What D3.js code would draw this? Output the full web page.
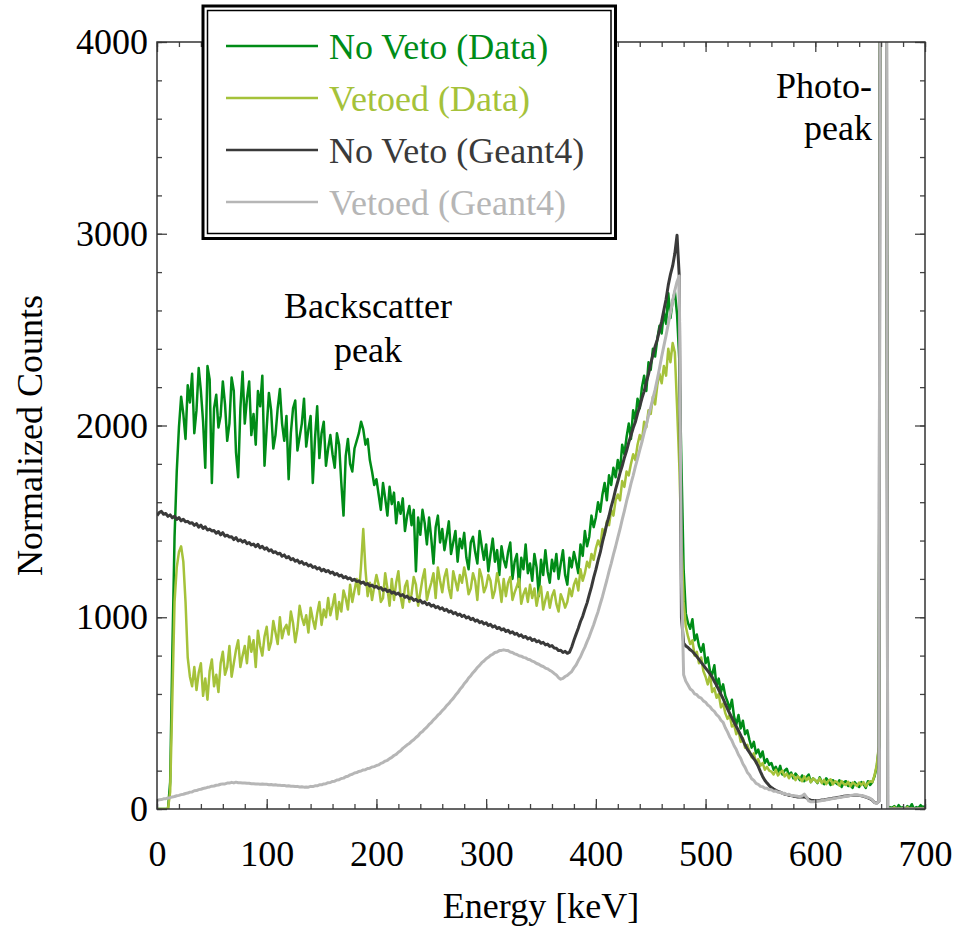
<!DOCTYPE html>
<html>
<head>
<meta charset="utf-8">
<script src="https://cdn.jsdelivr.net/npm/d3@7"></script>
<style>
  body { margin: 0; background: #fff; }
  text { font-family: "Liberation Serif", "DejaVu Serif", "Noto Serif", "Tinos", "Times New Roman", serif; }
</style>
</head>
<body>
<div id="chart"></div>
<script>
const width = 958, height = 934;
const margin = ({top: 42, right: 33, bottom: 125, left: 157});
const fontStack = '"Liberation Serif", "DejaVu Serif", "Noto Serif", "Tinos", "Times New Roman", serif';

// channels are 2 keV wide, channel i sits at i*binWidth keV
const binWidth = 2;

const noVetoData = [
  0,0,0,0,0,0,140,820,1420,1760,
  1990,2150,2060,1930,2210,2120,2270,1960,2080,2300,
  2180,2020,1780,2310,2240,1700,2090,2160,1990,2050,
  2230,2110,1920,2010,2250,2180,1860,1730,2090,2280,
  2010,2140,2230,1950,2060,1900,2180,2100,2260,1790,
  1990,2170,2080,1880,1950,2090,2190,2010,1920,2050,
  1720,1960,2090,2130,1870,1940,2010,2140,1890,1980,
  2050,1700,1930,2100,1830,1960,2020,1790,1880,1950,
  1850,1780,1960,1900,1700,1530,1840,1930,1800,1760,
  1880,1920,1960,2020,1980,1900,1930,1820,1760,1690,
  1720,1640,1560,1700,1620,1530,1680,1590,1650,1490,
  1600,1540,1620,1450,1530,1580,1480,1560,1240,1520,
  1430,1560,1490,1380,1520,1410,1280,1470,1530,1390,
  1460,1350,1420,1500,1330,1390,1450,1290,1410,1360,
  1440,1310,1250,1390,1420,1340,1280,1450,1370,1300,
  1380,1240,1330,1410,1290,1350,1220,1370,1300,1260,
  1340,1390,1200,1290,1330,1160,1310,1250,1380,1230,
  1280,1190,1330,1260,1110,1300,1220,1350,1240,1180,
  1300,1240,1330,1200,1280,1350,1220,1170,1310,1260,
  1340,1290,1230,1380,1320,1450,1370,1420,1530,1470,
  1520,1600,1550,1640,1700,1610,1740,1690,1780,1730,
  1820,1760,1900,1850,1940,2010,1930,2080,2030,2140,
  2090,2200,2260,2180,2330,2290,2400,2360,2450,2520,
  2480,2590,2530,2690,2560,2650,2700,2580,2350,1800,
  1250,1020,970,940,990,880,910,850,820,860,
  760,790,720,700,750,640,680,610,650,590,
  560,520,570,480,440,490,420,460,390,410,
  360,320,350,290,310,270,300,240,260,230,
  240,205,220,190,225,180,200,210,175,190,
  160,185,170,150,175,145,165,180,140,160,
  150,135,165,140,130,160,145,125,150,140,
  130,150,115,140,145,120,135,110,140,125,
  115,140,130,110,145,125,140,170,220,320,
  8000,8000,8000,0,10,5,15,0,20,5,
  10,0,15,5,25,0,10,5,20,10,
  15
];

const vetoedData = [
  0,0,0,0,0,0,90,580,1080,1260,
  1340,1370,1290,1080,790,690,640,740,620,710,
  760,590,680,570,720,780,640,700,610,760,
  820,700,740,850,690,760,830,880,740,800,
  850,760,900,820,880,740,930,850,800,900,
  950,830,870,980,920,860,1000,890,940,960,
  910,1030,970,870,940,1060,1000,960,1010,920,
  1050,990,940,1020,1080,960,1040,1000,1100,1010,
  1060,1120,990,1080,1030,1140,1100,1040,1170,1080,
  1140,1200,1120,1270,1460,1250,1110,1180,1090,1160,
  1220,1170,1080,1100,1230,1150,1060,1200,1090,1180,
  1240,1110,1050,1160,1190,1080,1120,1210,1170,1060,
  1130,1200,1250,1090,1140,1180,1230,1100,1260,1190,
  1130,1210,1250,1150,1100,1240,1190,1140,1220,1180,
  1260,1200,1120,1150,1230,1190,1090,1250,1210,1130,
  1160,1220,1190,1100,1140,1230,1170,1080,1200,1110,
  1180,1210,1090,1130,1160,1200,1070,1120,1150,1080,
  1170,1100,1150,1060,1120,1160,1040,1090,1130,1050,
  1110,1140,1070,1030,1120,1090,1050,1080,1150,1110,
  1170,1200,1140,1250,1190,1230,1290,1260,1330,1300,
  1360,1400,1370,1460,1430,1500,1480,1560,1530,1610,
  1640,1610,1710,1680,1760,1740,1800,1850,1820,1900,
  1950,1920,2020,1990,2080,2060,2150,2110,2210,2270,
  2220,2310,2260,2400,2330,2430,2380,2100,1800,1400,
  1080,950,900,860,880,800,820,760,790,720,
  690,650,700,610,630,580,600,530,550,500,
  470,490,430,440,390,410,350,370,320,335,
  300,270,290,240,260,225,240,205,220,200,
  195,180,205,175,190,200,170,185,160,180,
  175,150,170,160,145,170,150,165,140,160,
  150,138,160,135,152,130,148,155,128,145,
  140,122,146,130,125,142,118,138,130,120,
  138,125,140,118,135,145,140,175,230,330,
  8000,8000,8000,0,5,0,10,0,5,0,
  5,0,10,0,5,0,0,5,0,5,
  0
];

const noVetoG4 = [
  1530,1546,1552,1537,1541,1526,1534,1519,1527,1510,
  1520,1503,1511,1498,1500,1490,1493,1479,1488,1470,
  1480,1463,1472,1455,1460,1450,1452,1438,1447,1430,
  1441,1423,1428,1418,1420,1405,1416,1398,1404,1392,
  1400,1384,1390,1377,1382,1368,1380,1362,1370,1355,
  1362,1346,1352,1337,1342,1330,1334,1318,1325,1310,
  1316,1300,1306,1292,1298,1283,1290,1276,1281,1268,
  1274,1260,1264,1252,1258,1242,1250,1238,1244,1230,
  1236,1222,1228,1215,1220,1206,1212,1200,1205,1192,
  1198,1186,1190,1178,1184,1170,1176,1163,1168,1156,
  1162,1150,1155,1141,1147,1134,1140,1126,1132,1120,
  1126,1112,1118,1104,1110,1097,1102,1088,1094,1082,
  1088,1074,1080,1066,1072,1058,1064,1050,1056,1043,
  1049,1035,1041,1027,1033,1019,1025,1011,1017,1004,
  1010,996,1002,988,994,980,986,972,978,965,
  971,957,963,949,955,941,947,934,940,926,
  932,918,924,911,916,902,908,895,900,887,
  893,879,885,872,877,864,869,856,860,848,
  852,840,838,826,828,816,822,812,818,845,
  880,912,943,978,1005,1042,1075,1118,1158,1207,
  1248,1297,1338,1392,1438,1487,1528,1577,1618,1667,
  1708,1752,1788,1832,1868,1912,1948,1987,2018,2062,
  2098,2142,2178,2227,2268,2322,2368,2412,2448,2497,
  2543,2602,2658,2732,2788,2832,2898,2992,2780,1000,
  865,850,842,830,822,808,795,780,765,750,
  735,720,705,688,665,645,622,598,575,548,
  522,498,475,452,430,408,385,360,335,312,
  295,278,262,245,222,195,170,150,135,122,
  112,104,97,92,88,82,78,75,72,70,
  67,65,63,62,62,64,58,50,46,44,
  42,43,45,47,48,50,52,54,56,58,
  60,62,64,66,68,69,70,71,72,72,
  71,69,66,62,58,53,46,34,31,40,
  8000,8000,8000,0,0,0,0,0,0,0,
  0,0,0,0,0,0,0,0,0,0,
  0
];

const vetoedG4 = [
  45,48,49,53,54,57,59,63,65,69,
  71,75,77,81,83,88,89,95,96,101,
  103,107,109,113,115,119,120,124,125,129,
  131,131,135,135,139,136,140,137,137,136,
  136,134,134,132,132,131,131,129,130,129,
  129,127,128,125,126,124,124,122,123,120,
  121,119,119,117,118,115,116,114,115,114,
  118,117,121,121,126,126,131,132,137,138,
  144,145,151,153,159,161,168,171,178,181,
  188,190,196,198,204,205,211,213,219,221,
  227,230,238,242,250,254,263,269,279,285,
  296,304,316,325,335,342,353,361,373,382,
  396,404,417,427,441,451,465,475,489,499,
  513,524,539,550,565,577,593,606,623,636,
  653,666,683,695,711,723,738,749,763,772,
  784,791,801,807,816,819,826,827,830,827,
  826,819,816,809,806,799,797,791,788,781,
  778,771,767,759,755,747,743,735,731,723,
  717,707,699,685,677,681,691,697,707,717,
  736,751,774,794,821,844,873,899,931,961,
  996,1029,1069,1107,1151,1193,1239,1281,1327,1369,
  1415,1459,1509,1555,1605,1649,1697,1739,1785,1827,
  1871,1914,1961,2004,2051,2094,2141,2187,2241,2299,
  2360,2415,2470,2530,2590,2650,2705,2750,2780,1200,
  700,666,647,626,617,601,596,583,578,564,
  557,542,534,518,509,492,482,463,452,424,
  402,376,357,330,310,283,264,236,217,192,
  178,158,149,134,129,118,116,108,108,100,
  100,93,94,87,88,81,82,75,77,70,
  70,68,66,65,68,78,62,42,38,38,
  39,40,42,44,46,48,50,52,54,56,
  58,60,62,64,66,68,70,72,73,73,
  72,70,68,64,60,55,48,33,30,40,
  8000,8000,8000,0,0,0,0,0,0,0,
  0,0,0,0,0,0,0,0,0,0,
  0
];

const seriesNames = ["No Veto (Data)", "Vetoed (Data)", "No Veto (Geant4)", "Vetoed (Geant4)"];
const seriesColors = ["#008c17", "#a5c23a", "#3a3a3a", "#b6b6b6"];
const seriesWidths = [2.5, 2.5, 3, 3];
const seriesValues = [noVetoData, vetoedData, noVetoG4, vetoedG4];

const xTicks = [0, 100, 200, 300, 400, 500, 600, 700];
const yTicks = [0, 1000, 2000, 3000, 4000];
const xMinor = d3.range(0, 701, 20);
const yMinor = d3.range(0, 4001, 200);

const x = d3.scaleLinear()
    .domain([0, 700])
    .range([margin.left, width - margin.right]);
const y = d3.scaleLinear()
    .domain([0, 4000])
    .range([height - margin.bottom, margin.top]);

const lineGenerator = d3.line()
    .x((d, i) => x(i * binWidth))
    .y(d => y(d));

const svg = d3.select("#chart")
  .append("svg")
    .attr("width", width)
    .attr("height", height)
    .attr("font-family", fontStack);

svg.append("clipPath")
    .attr("id", "plot-clip")
  .append("rect")
    .attr("x", x(0))
    .attr("y", y(4000))
    .attr("width", x(700) - x(0))
    .attr("height", y(0) - y(4000));

// spectra
svg.append("g")
    .attr("clip-path", "url(#plot-clip)")
  .selectAll("path")
  .data(seriesValues)
  .enter()
  .append("path")
    .attr("d", lineGenerator)
    .attr("fill", "none")
    .attr("stroke", (d, i) => seriesColors[i])
    .attr("stroke-width", (d, i) => seriesWidths[i])
    .attr("stroke-linejoin", "round");

// frame + inward ticks on all four sides
function tickAxis(axis, transform, size, labels, pad) {
  const g = svg.append("g")
      .attr("transform", transform)
      .call(axis.tickSize(-size).tickSizeOuter(0).tickPadding(pad))
      .attr("font-family", fontStack)
      .attr("font-size", 36);
  if (!labels) g.selectAll("text").remove();
  g.select(".domain").remove();
  g.selectAll("line").attr("stroke", "#444").attr("stroke-width", 1.3);
  g.selectAll("text").attr("fill", "#000");
  return g;
}
const bottomY = y(0), topY = y(4000), leftX = x(0), rightX = x(700);

tickAxis(d3.axisBottom(x).tickValues(xMinor).tickFormat(""), `translate(0,${bottomY})`, 5, false, 0);
tickAxis(d3.axisBottom(x).tickValues(xTicks).tickFormat(d3.format("d")), `translate(0,${bottomY})`, 10, true, 31);
tickAxis(d3.axisTop(x).tickValues(xMinor).tickFormat(""), `translate(0,${topY})`, 5, false, 0);
tickAxis(d3.axisTop(x).tickValues(xTicks).tickFormat(""), `translate(0,${topY})`, 10, false, 0);
tickAxis(d3.axisLeft(y).tickValues(yMinor).tickFormat(""), `translate(${leftX},0)`, 5, false, 0);
tickAxis(d3.axisLeft(y).tickValues(yTicks).tickFormat(d3.format("d")), `translate(${leftX},0)`, 10, true, 9);
tickAxis(d3.axisRight(y).tickValues(yMinor).tickFormat(""), `translate(${rightX},0)`, 5, false, 0);
tickAxis(d3.axisRight(y).tickValues(yTicks).tickFormat(""), `translate(${rightX},0)`, 10, false, 0);

svg.append("rect")
    .attr("x", leftX)
    .attr("y", topY)
    .attr("width", rightX - leftX)
    .attr("height", bottomY - topY)
    .attr("fill", "none")
    .attr("stroke", "#333")
    .attr("stroke-width", 1.5);

// axis titles
svg.append("text")
    .attr("x", (leftX + rightX) / 2)
    .attr("y", 918)
    .attr("text-anchor", "middle")
    .style("font-size", "36px")
    .text("Energy [keV]");
svg.append("text")
    .attr("transform", `translate(42, ${(topY + bottomY) / 2 + 10}) rotate(-90)`)
    .attr("text-anchor", "middle")
    .style("font-size", "36px")
    .text("Normalized Counts");

// annotations
svg.append("text")
    .attr("x", 368).attr("y", 318)
    .attr("text-anchor", "middle")
    .style("font-size", "36px")
    .text("Backscatter");
svg.append("text")
    .attr("x", 368).attr("y", 362)
    .attr("text-anchor", "middle")
    .style("font-size", "36px")
    .text("peak");
svg.append("text")
    .attr("x", 872).attr("y", 98)
    .attr("text-anchor", "end")
    .style("font-size", "36px")
    .text("Photo-");
svg.append("text")
    .attr("x", 872).attr("y", 140)
    .attr("text-anchor", "end")
    .style("font-size", "36px")
    .text("peak");

// legend with double frame
const legend = svg.append("g");
legend.append("rect")
    .attr("x", 203).attr("y", 6)
    .attr("width", 412.5).attr("height", 232.5)
    .attr("fill", "#fff")
    .attr("stroke", "#000")
    .attr("stroke-width", 3);
legend.append("rect")
    .attr("x", 207.5).attr("y", 10.5)
    .attr("width", 403.5).attr("height", 223)
    .attr("fill", "none")
    .attr("stroke", "#000")
    .attr("stroke-width", 1.5);

const legendRows = legend.selectAll("g.row")
  .data(seriesNames)
  .enter()
  .append("g")
    .attr("class", "row")
    .attr("transform", (d, i) => `translate(0, ${46 + i * 52})`);
legendRows.append("line")
    .attr("x1", 226).attr("x2", 318)
    .attr("stroke", (d, i) => seriesColors[i])
    .attr("stroke-width", 2.5);
legendRows.append("text")
    .attr("x", 329).attr("y", 13)
    .attr("fill", (d, i) => seriesColors[i])
    .style("font-size", "36px")
    .text(d => d);
</script>
</body>
</html>
